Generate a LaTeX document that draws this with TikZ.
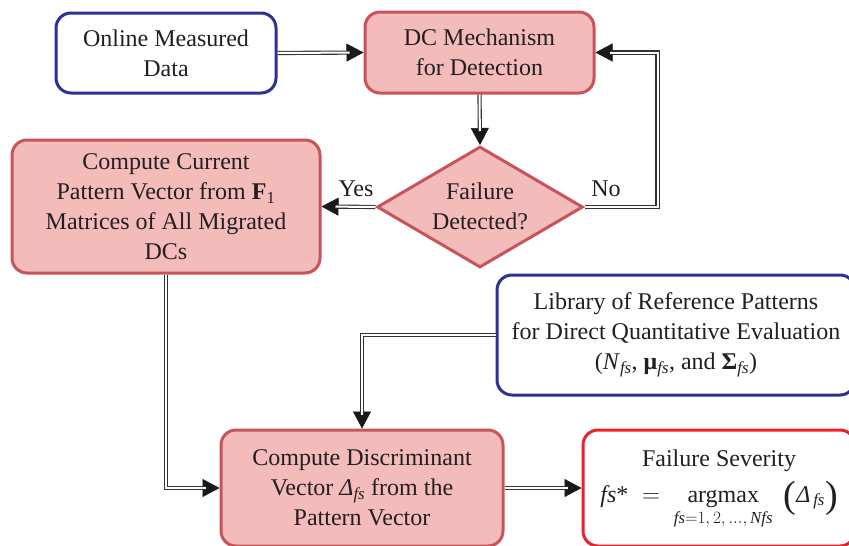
\documentclass[tikz,border=0pt]{standalone}
\usepackage{amsmath}
\usepackage{fontspec}
\setmainfont{Liberation Serif}
\usetikzlibrary{arrows.meta,shapes.geometric,calc}
\definecolor{pinkfill}{HTML}{F4BBBB}
\definecolor{redline}{HTML}{C8545A}
\definecolor{blueline}{HTML}{2B3196}
\definecolor{brightred}{HTML}{E8212B}
\definecolor{txt}{HTML}{231F20}
\newcommand\dblarrow[1]{\draw[tipline] #1; \draw[dline] #1;}
\newcommand\bigparen[1]{\raisebox{-5pt}{\fontsize{38}{38}\selectfont #1}}
\begin{document}
\begin{tikzpicture}[x=1pt,y=-1pt,
  every node/.style={font=\fontsize{24}{30}\selectfont, text=txt},
  box/.style={draw, rounded corners=15pt, line width=3pt, align=center, inner sep=0pt},
  bluebox/.style={box, draw=blueline, fill=white},
  pinkbox/.style={box, draw=redline, fill=pinkfill},
  redbox/.style={box, draw=brightred, fill=white},
  dline/.style={draw=black!80, double=white, double distance=2pt, line width=1.1pt, line join=miter, shorten >=14pt},
  tipline/.style={draw=black!90, line width=0.5pt, -{Triangle[length=17pt,width=18pt]}},
]
\useasboundingbox (0,0) rectangle (849,546);

\node[bluebox, minimum width=220pt, minimum height=80pt] (on) at (166,53) {Online Measured\\Data};
\node[pinkbox, minimum width=229pt, minimum height=81pt] (dc) at (479.5,52.5) {DC Mechanism\\for Detection};
\node[diamond, draw=redline, fill=pinkfill, line width=3pt, minimum width=206pt, minimum height=121pt, inner sep=0pt] (dia) at (480,207) {};
\node[align=center] (diat) at (480,206) {Failure\\Detected?};
\node[pinkbox, minimum width=308pt, minimum height=133pt] (cc) at (166,206.5)
  {Compute Current\\Pattern Vector from \textbf{F}\textsubscript{1}\\Matrices of All Migrated\\DCs};
\node[bluebox, minimum width=358pt, minimum height=120pt] (lib) at (676,335)
  {Library of Reference Patterns\\for Direct Quantitative Evaluation\\(\textit{N}\textsubscript{\textit{fs}}, \textbf{μ}\textsubscript{\textit{fs}}, and \textbf{Σ}\textsubscript{\textit{fs}})};
\node[pinkbox, minimum width=282pt, minimum height=116pt] (dis) at (362,488)
  {Compute Discriminant\\Vector \textit{Δ}\textsubscript{\textit{fs}} from the\\Pattern Vector};
\node[redbox, minimum width=272pt, minimum height=116pt] (fs) at (719,488) {};
\node[inner sep=0pt, anchor=base] (fstitle) at (719,466) {Failure Severity};
\node[inner sep=0pt, anchor=base] (fsformula) at (719,502)
  {$\textit{fs}\text{*} \;=\; \mathop{\text{argmax}}\limits_{\textit{fs}=1,\,2,\,\ldots,\,\textit{Nfs}}\; \text{\bigparen{(}}\textit{Δ}_{\,\textit{fs}}\text{\bigparen{)}}$};

\node (yes) at (356,189) {Yes};
\node (no) at (606,189) {No};

\dblarrow{(on.east) -- (dc.west)}
\dblarrow{(dc.south) -- (dia.north)}
\dblarrow{(dia.east) -| ($(dc.east)+(62,0)$) -- (dc.east)}
\dblarrow{(dia.west) -- (cc.east)}
\dblarrow{(cc.south) |- (dis.west)}
\dblarrow{(lib.west) -| (dis.north)}
\dblarrow{(dis.east) -- (fs.west)}
\end{tikzpicture}
\end{document}
